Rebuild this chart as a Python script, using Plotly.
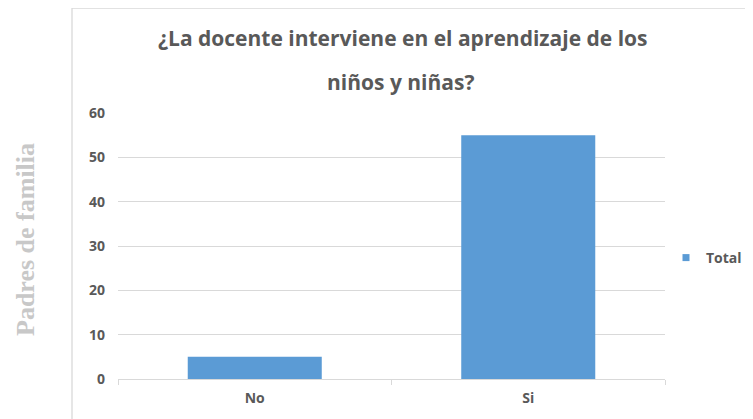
import plotly.graph_objects as go

categories = ["No", "Si"]
values = [5, 55]
series_name = "Total"
title_line1 = "¿La docente interviene en el aprendizaje de los"
title_line2 = "niños y niñas?"
y_title = "Padres de familia"
y_ticks = [0, 10, 20, 30, 40, 50, 60]

OFF = 8  # page body margin
W, H = 745, 411
L, R, T, B = 110, 88, 105, 40
pw, ph = W - L - R, H - T - B

def px(x):
    return (x - OFF - L) / pw

def py(y):
    return (H - B - (y - OFF)) / ph

TXT = "#595959"
FONT = "Open Sans"
BAR = "#5B9BD5"

fig = go.Figure()
fig.add_trace(go.Bar(x=categories, y=values, name=series_name,
                     marker=dict(color=BAR, line=dict(width=0)),
                     showlegend=False))
# legend entry with a small square symbol
fig.add_trace(go.Scatter(x=[None], y=[None], mode="markers", name=series_name,
                         marker=dict(symbol="square", size=7, color=BAR),
                         showlegend=True))

fig.update_layout(
    width=W, height=H,
    margin=dict(l=L, r=R, t=T, b=B, autoexpand=False),
    paper_bgcolor="white", plot_bgcolor="white",
    bargap=0.51,
    showlegend=True,
    legend=dict(x=px(666), y=py(258), xanchor="left", yanchor="middle",
                font=dict(family=FONT, size=14, color=TXT, weight="bold"),
                itemwidth=30, bgcolor="rgba(0,0,0,0)"),
    font=dict(family=FONT, color=TXT),
)
fig.update_yaxes(range=[0, 60], tickvals=y_ticks, showgrid=True, gridcolor="#d9d9d9",
                 gridwidth=1, zeroline=False, showline=False,
                 tickfont=dict(family=FONT, size=14, color=TXT, weight="bold"),
                 ticklabelstandoff=12)
fig.update_xaxes(showline=True, linecolor="#d9d9d9", linewidth=1,
                 ticks="outside", tickson="boundaries", ticklen=5, tickcolor="#d9d9d9",
                 tickfont=dict(family=FONT, size=14, color=TXT, weight="bold"),
                 ticklabelstandoff=6)

# outer chart frame
fig.add_shape(type="rect", xref="paper", yref="paper",
              x0=px(72), x1=px(790), y0=py(440), y1=py(8),
              line=dict(color="#d9d9d9", width=1.3), fillcolor="rgba(0,0,0,0)", layer="below")

fig.add_annotation(text=title_line1, xref="paper", yref="paper", x=px(403), y=py(38),
                   xanchor="center", yanchor="middle", showarrow=False,
                   font=dict(family=FONT, size=21, color=TXT, weight="bold"))
fig.add_annotation(text=title_line2, xref="paper", yref="paper", x=px(400), y=py(82),
                   xanchor="center", yanchor="middle", showarrow=False,
                   font=dict(family=FONT, size=21, color=TXT, weight="bold"))
fig.add_annotation(text=y_title, xref="paper", yref="paper", x=px(25), y=py(240),
                   xanchor="center", yanchor="middle", textangle=-90, showarrow=False,
                   font=dict(family="Liberation Serif", size=26, color="#c8c8c8", weight="bold"))

fig.write_html("out.html")
